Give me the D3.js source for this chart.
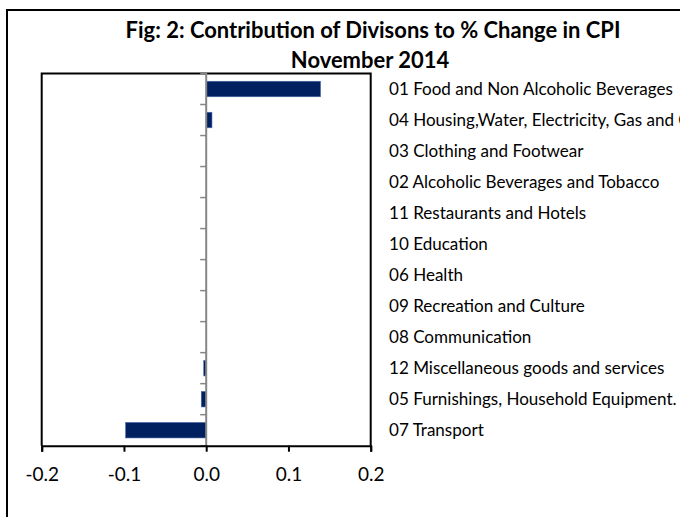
<!DOCTYPE html>
<html>
<head>
<meta charset="utf-8">
<script src="https://cdn.jsdelivr.net/npm/d3@7"></script>
<style>
  html, body { margin: 0; padding: 0; background: #fff; overflow: hidden; }
  svg { display: block; }
  text { font-family: Lato, "Open Sans", sans-serif; fill: #000; }
</style>
</head>
<body>
<svg id="chart" width="680" height="517"></svg>
<script>
// ---- data ----
const categories = [
  "01 Food and Non Alcoholic Beverages",
  "04 Housing,Water, Electricity, Gas and Other Fuels",
  "03 Clothing and Footwear",
  "02 Alcoholic Beverages and Tobacco",
  "11 Restaurants and Hotels",
  "10 Education",
  "06 Health",
  "09 Recreation and Culture",
  "08 Communication",
  "12 Miscellaneous goods and services",
  "05 Furnishings, Household Equipment.",
  "07 Transport"
];
const values = [0.139, 0.007, 0, 0, 0, 0, 0, 0, 0, -0.003, -0.006, -0.098];
const xTicks = [-0.2, -0.1, 0.0, 0.1, 0.2];
const xTickLabels = ["-0.2", "-0.1", "0.0", "0.1", "0.2"];
const titleLines = ["Fig: 2: Contribution of Divisons to % Change in CPI", "November 2014"];

// ---- layout ----
const svg = d3.select("#chart");
const plot = { left: 41.7, right: 370.7, top: 73.5, bottom: 445.7 };

const x = d3.scaleLinear().domain([-0.2, 0.2]).range([plot.left, plot.right]);
const y = d3.scaleBand().domain(categories).range([plot.top, plot.bottom])
  .paddingInner(0.5).paddingOuter(0.25);

// helper: fit font-size so a text has target width
function fit(sel, targetWidth) {
  const base = 20;
  sel.style("font-size", base + "px");
  const w = sel.node().getComputedTextLength();
  sel.style("font-size", (base * targetWidth / w) + "px");
}

// outer frame
svg.append("rect")
  .attr("x", 7).attr("y", 10).attr("width", 700).attr("height", 540)
  .attr("fill", "none").attr("stroke", "#000").attr("stroke-width", 2);

// title
const t1 = svg.append("text").attr("x", 373).attr("y", 38)
  .attr("text-anchor", "middle").style("font-weight", "bold").text(titleLines[0]);
fit(t1, 495);
const t2 = svg.append("text").attr("x", 370).attr("y", 68)
  .attr("text-anchor", "middle").style("font-weight", "bold").text(titleLines[1]);
t2.style("font-size", t1.style("font-size"));

// plot border (left/top/right)
svg.append("path")
  .attr("d", `M${plot.left},${plot.bottom}V${plot.top}H${plot.right}V${plot.bottom}`)
  .attr("fill", "none").attr("stroke", "#000").attr("stroke-width", 2);

// bars
svg.append("g").selectAll("rect").data(categories).join("rect")
  .attr("x", (d, i) => x(Math.min(0, values[i])))
  .attr("y", d => y(d))
  .attr("width", (d, i) => Math.abs(x(values[i]) - x(0)))
  .attr("height", y.bandwidth())
  .attr("fill", "#002060")
  .attr("stroke", "#4a6aa8")
  .attr("stroke-width", 0.6);

// zero (category) axis line, gray, with ticks at band boundaries
const step = y.step();
const tickYs = categories.map(c => y(c) - step * 0.25)
  .concat([y(categories[categories.length - 1]) + step * 0.75]);
const zeroG = svg.append("g");
zeroG.selectAll("line.tk").data(tickYs)
  .join("line").attr("class", "tk")
  .attr("x1", x(0) - 6).attr("x2", x(0))
  .attr("y1", d => d).attr("y2", d => d)
  .attr("stroke", "#868686").attr("stroke-width", 1.5);
zeroG.append("line")
  .attr("x1", x(0)).attr("x2", x(0))
  .attr("y1", plot.top - 1).attr("y2", plot.bottom + 1)
  .attr("stroke", "#868686").attr("stroke-width", 2);

// x axis
const xAxis = svg.append("g").attr("transform", `translate(0,${plot.bottom})`)
  .call(d3.axisBottom(x).tickValues(xTicks).tickSize(6).tickPadding(16)
    .tickFormat((d, i) => xTickLabels[i]));
xAxis.select(".domain").attr("stroke", "#000").attr("stroke-width", 2);
xAxis.selectAll(".tick line").attr("stroke", "#000").attr("stroke-width", 2);
xAxis.selectAll(".tick text").style("font-size", "19px").attr("fill", "#000")
  .style("font-family", "Lato, 'Open Sans', sans-serif");

// category labels at right
const lab = svg.append("g");
const labels = lab.selectAll("text").data(categories).join("text")
  .attr("x", 389)
  .attr("y", d => y(d) + y.bandwidth() / 2 + 5.5)
  .text(d => d);
// fit font size from first label
const first = lab.select("text");
first.style("font-size", "20px");
const fw = first.node().getComputedTextLength();
labels.style("font-size", (20 * 284 / fw) + "px");
</script>
</body>
</html>
